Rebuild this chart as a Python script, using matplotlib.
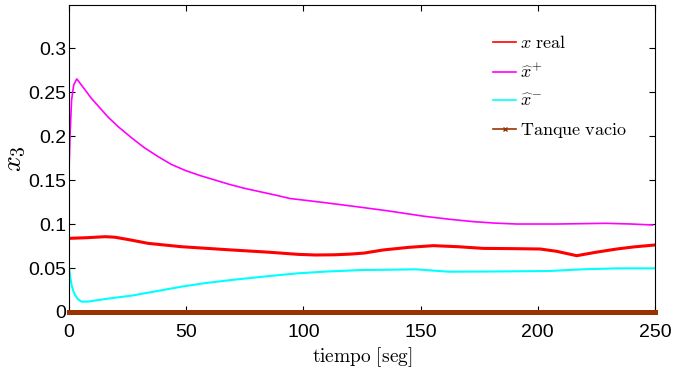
import matplotlib.pyplot as plt
import numpy as np

plt.rcParams['mathtext.fontset'] = 'cm'
plt.rcParams['font.family'] = ['Liberation Sans', 'DejaVu Sans']

# valores
t_real = [0, 8, 15.4, 19.6, 26, 33.8, 48, 69.4, 85, 97.8, 105, 113, 120, 126, 134, 145, 155.4, 166, 176.8, 190, 201, 208, 216.6, 225, 233.7, 241, 249.3, 250]
x_real = [0.0837, 0.0845, 0.0856, 0.085, 0.082, 0.078, 0.0742, 0.0705, 0.068, 0.0655, 0.0648, 0.065, 0.0658, 0.067, 0.0705, 0.0735, 0.0754, 0.0742, 0.0723, 0.072, 0.0716, 0.069, 0.064, 0.068, 0.0716, 0.074, 0.076, 0.0762]

t_mas = [0, 0.5, 1.1, 2, 3.3, 5, 6.8, 9.5, 12.5, 16.5, 21, 26.7, 32, 38.1, 43.5, 49.5, 56, 62.3, 68.5, 75, 81, 87.9, 94.3, 100.7, 110, 122.7, 136, 151, 162, 172.5, 182, 191, 208, 229, 240, 249]
x_mas = [0.161, 0.205, 0.241, 0.258, 0.265, 0.259, 0.2527, 0.243, 0.234, 0.222, 0.2106, 0.198, 0.187, 0.1765, 0.168, 0.161, 0.155, 0.150, 0.145, 0.1405, 0.137, 0.133, 0.129, 0.127, 0.124, 0.1197, 0.115, 0.109, 0.1055, 0.1027, 0.101, 0.100, 0.100, 0.1008, 0.100, 0.0989]

t_menos = [0, 0.5, 1.1, 1.8, 2.6, 3.8, 5.4, 8, 12.5, 19, 26.7, 37, 48, 58, 69.4, 84, 97.8, 110, 124.9, 135, 148, 162, 180, 205, 219, 233.7, 249, 250]
x_menos = [0.0515, 0.040, 0.0307, 0.024, 0.0193, 0.0145, 0.0117, 0.0118, 0.0136, 0.016, 0.0186, 0.0235, 0.0288, 0.0328, 0.0364, 0.0405, 0.044, 0.046, 0.0477, 0.048, 0.0485, 0.0458, 0.046, 0.0466, 0.0485, 0.0496, 0.0496, 0.0497]

t_vacio = [0, 250]
x_vacio = [0, 0]

fig = plt.figure(figsize=(6.86, 3.69), dpi=100)
ax = fig.add_axes([0.1006, 0.1545, 0.8542, 0.832])

ax.plot(t_real, x_real, color='#ff0000', lw=2.2, label=r'$x\ \mathrm{real}$')
ax.plot(t_mas, x_mas, color='#ff00ff', lw=1.2, label=r'$\widehat{x}^{+}$')
ax.plot(t_menos, x_menos, color='#00ffff', lw=1.5, label=r'$\widehat{x}^{-}$')
ax.plot(t_vacio, x_vacio, color='#993300', lw=3.6, marker='x', markersize=3,
        markevery=[0], clip_on=False, label=r'$\mathrm{Tanque\ vacio}$', zorder=5)

ax.set_xlim(0, 250)
ax.set_ylim(0, 0.349)
ax.set_xticks([0, 50, 100, 150, 200, 250])
ax.set_yticks([0, 0.05, 0.1, 0.15, 0.2, 0.25, 0.3])
ax.set_yticklabels(['0', '0.05', '0.1', '0.15', '0.2', '0.25', '0.3'])
ax.tick_params(direction='in', top=True, right=True, labelsize=14, length=4)
ax.tick_params(axis='x', pad=9)
ax.tick_params(axis='y', pad=2)

ax.set_xlabel(r'$\mathrm{tiempo\ [seg]}$', fontsize=14, labelpad=3)
ax.set_ylabel(r'$x_3$', fontsize=20, labelpad=0)

leg = ax.legend(loc='upper right', bbox_to_anchor=(0.98, 0.955), frameon=False,
                fontsize=13, handlelength=1.3, handletextpad=0.2, labelspacing=0.62)
for h in leg.legend_handles:
    h.set_linewidth(1.2)

fig.savefig('out.png', dpi=100)
